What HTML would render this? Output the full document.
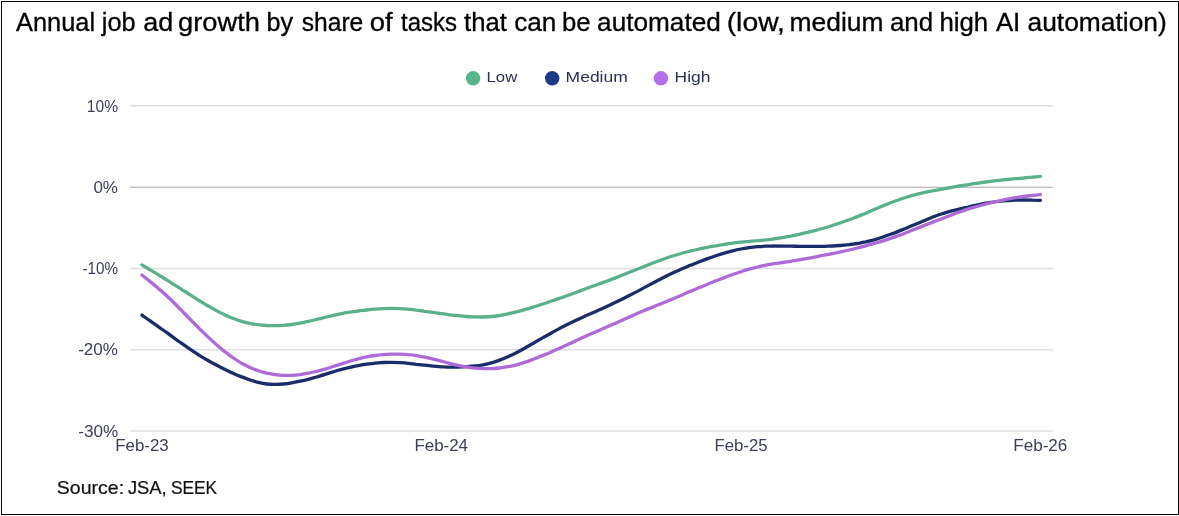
<!DOCTYPE html>
<html><head><meta charset="utf-8"><title>Annual job ad growth</title>
<style>
html,body{margin:0;padding:0;background:#fff;}
body{width:1179px;height:516px;overflow:hidden;font-family:"Liberation Sans",sans-serif;}
svg{display:block;}
text{font-family:"Liberation Sans",sans-serif;}
.ax{fill:#3c4058;font-size:15.5px;}
.lg{fill:#2b3050;font-size:15.2px;}
</style></head><body>
<svg width="1179" height="516" viewBox="0 0 1179 516">
<rect x="0" y="0" width="1179" height="516" fill="#fff"/>
<rect x="1.5" y="1.5" width="1177" height="513" fill="none" stroke="#000" stroke-width="1"/>
<text y="31.1" font-size="25" fill="#000" stroke="#000" stroke-width="0.3">
<tspan x="16.1" textLength="79.0" lengthAdjust="spacingAndGlyphs">Annual</tspan>
<tspan x="101.8" textLength="33.8" lengthAdjust="spacingAndGlyphs">job</tspan>
<tspan x="143.3" textLength="30.0" lengthAdjust="spacingAndGlyphs">ad</tspan>
<tspan x="178.1" textLength="81.9" lengthAdjust="spacingAndGlyphs">growth</tspan>
<tspan x="266.6" textLength="26.6" lengthAdjust="spacingAndGlyphs">by</tspan>
<tspan x="301.8" textLength="61.5" lengthAdjust="spacingAndGlyphs">share</tspan>
<tspan x="369.8" textLength="22.9" lengthAdjust="spacingAndGlyphs">of</tspan>
<tspan x="401.0" textLength="56.0" lengthAdjust="spacingAndGlyphs">tasks</tspan>
<tspan x="464.0" textLength="42.9" lengthAdjust="spacingAndGlyphs">that</tspan>
<tspan x="514.2" textLength="42.2" lengthAdjust="spacingAndGlyphs">can</tspan>
<tspan x="561.9" textLength="28.6" lengthAdjust="spacingAndGlyphs">be</tspan>
<tspan x="597.1" textLength="123.7" lengthAdjust="spacingAndGlyphs">automated</tspan>
<tspan x="726.7" textLength="58.2" lengthAdjust="spacingAndGlyphs">(low,</tspan>
<tspan x="789.6" textLength="93.8" lengthAdjust="spacingAndGlyphs">medium</tspan>
<tspan x="889.9" textLength="43.3" lengthAdjust="spacingAndGlyphs">and</tspan>
<tspan x="939.4" textLength="48.8" lengthAdjust="spacingAndGlyphs">high</tspan>
<tspan x="995.9" textLength="24.3" lengthAdjust="spacingAndGlyphs">AI</tspan>
<tspan x="1027.5" textLength="139.3" lengthAdjust="spacingAndGlyphs">automation)</tspan>
</text>
<g stroke="#dfdfe4" stroke-width="1.5">
<line x1="130" y1="105.8" x2="1052.8" y2="105.8"/>
<line x1="130" y1="268.5" x2="1052.8" y2="268.5"/>
<line x1="130" y1="349.8" x2="1052.8" y2="349.8"/>
<line x1="130" y1="431" x2="1052.8" y2="431"/>
</g>
<line x1="130" y1="187.2" x2="1052.8" y2="187.2" stroke="#a7a4b0" stroke-width="1.1"/>
<g class="ax" text-anchor="end" style="font-size:16.3px">
<text x="118.0" y="111.7" textLength="31.2" lengthAdjust="spacingAndGlyphs">10%</text>
<text x="118.0" y="192.9" textLength="24.6" lengthAdjust="spacingAndGlyphs">0%</text>
<text x="118.0" y="274.2" textLength="35.6" lengthAdjust="spacingAndGlyphs">-10%</text>
<text x="118.0" y="355.4" textLength="39.8" lengthAdjust="spacingAndGlyphs">-20%</text>
<text x="118.3" y="436.6" textLength="40" lengthAdjust="spacingAndGlyphs">-30%</text>
</g>
<g class="ax" style="font-size:15.8px">
<text x="115.2" y="450.6" textLength="53.6" lengthAdjust="spacingAndGlyphs">Feb-23</text>
<text x="414.4" y="450.6" textLength="53.6" lengthAdjust="spacingAndGlyphs">Feb-24</text>
<text x="714.4" y="450.6" textLength="53.2" lengthAdjust="spacingAndGlyphs">Feb-25</text>
<text x="1013.2" y="450.6" textLength="54.2" lengthAdjust="spacingAndGlyphs">Feb-26</text>
</g>
<circle cx="473.1" cy="78.3" r="7.2" fill="#58b68c"/>
<circle cx="552.2" cy="78.3" r="7.2" fill="#1f3a8a"/>
<circle cx="660.9" cy="78.3" r="7.2" fill="#b46ee8"/>
<g class="lg">
<text x="486.6" y="82.2" textLength="30.6" lengthAdjust="spacingAndGlyphs">Low</text>
<text x="565.6" y="82.2" textLength="62.2" lengthAdjust="spacingAndGlyphs">Medium</text>
<text x="674.6" y="82.2" textLength="35.8" lengthAdjust="spacingAndGlyphs">High</text>
</g>
<g fill="none" stroke-width="3.3" stroke-linecap="round" stroke-linejoin="round">
<path stroke="#5ab08b" d="M141.9 264.9C144.7 266.5 147.4 268.2 150.2 269.9C153.0 271.5 155.8 273.2 158.5 274.9C161.3 276.6 164.1 278.3 166.9 280.0C169.6 281.8 172.4 283.5 175.2 285.3C178.0 287.0 180.7 288.8 183.5 290.6C186.3 292.4 189.0 294.1 191.8 295.9C194.6 297.7 197.4 299.4 200.1 301.2C202.9 302.9 205.7 304.6 208.5 306.2C211.2 307.9 214.0 309.4 216.8 310.9C219.5 312.4 222.3 313.7 225.1 315.0C227.9 316.3 230.6 317.4 233.4 318.5C236.2 319.5 239.0 320.5 241.7 321.3C244.5 322.1 247.3 322.8 250.1 323.3C252.8 323.9 255.6 324.4 258.4 324.7C261.1 325.1 263.9 325.3 266.7 325.5C269.5 325.7 272.2 325.7 275.0 325.7C277.8 325.7 280.6 325.6 283.3 325.4C286.1 325.2 288.9 324.9 291.6 324.5C294.4 324.1 297.2 323.7 300.0 323.2C302.7 322.6 305.5 322.0 308.3 321.4C311.1 320.8 313.8 320.1 316.6 319.4C319.4 318.8 322.2 318.1 324.9 317.4C327.7 316.7 330.5 316.1 333.2 315.4C336.0 314.8 338.8 314.2 341.6 313.6C344.3 313.1 347.1 312.6 349.9 312.2C352.7 311.8 355.4 311.4 358.2 311.0C361.0 310.7 363.8 310.3 366.5 310.0C369.3 309.7 372.1 309.4 374.8 309.2C377.6 309.0 380.4 308.8 383.2 308.6C385.9 308.5 388.7 308.4 391.5 308.4C394.3 308.4 397.0 308.5 399.8 308.6C402.6 308.8 405.3 309.0 408.1 309.2C410.9 309.5 413.7 309.8 416.4 310.2C419.2 310.5 422.0 310.9 424.8 311.3C427.5 311.6 430.3 312.0 433.1 312.4C435.9 312.8 438.6 313.3 441.4 313.6C444.2 314.0 446.9 314.4 449.7 314.8C452.5 315.1 455.3 315.4 458.0 315.7C460.8 316.0 463.6 316.3 466.4 316.5C469.1 316.7 471.9 316.8 474.7 316.9C477.5 317.0 480.2 317.0 483.0 317.0C485.8 316.9 488.5 316.8 491.3 316.5C494.1 316.3 496.9 315.9 499.6 315.5C502.4 315.1 505.2 314.5 508.0 313.9C510.7 313.3 513.5 312.7 516.3 311.9C519.0 311.2 521.8 310.5 524.6 309.6C527.4 308.8 530.1 308.0 532.9 307.1C535.7 306.3 538.5 305.4 541.2 304.5C544.0 303.6 546.8 302.7 549.6 301.7C552.3 300.8 555.1 299.9 557.9 298.9C560.6 298.0 563.4 297.0 566.2 296.0C569.0 295.0 571.7 294.0 574.5 293.0C577.3 292.0 580.1 291.0 582.8 289.9C585.6 288.9 588.4 287.9 591.1 286.8C593.9 285.8 596.7 284.8 599.5 283.8C602.2 282.8 605.0 281.7 607.8 280.7C610.6 279.7 613.3 278.6 616.1 277.6C618.9 276.5 621.7 275.4 624.4 274.3C627.2 273.2 630.0 272.1 632.7 271.0C635.5 269.9 638.3 268.8 641.1 267.7C643.8 266.6 646.6 265.5 649.4 264.4C652.2 263.3 654.9 262.2 657.7 261.2C660.5 260.1 663.3 259.1 666.0 258.2C668.8 257.2 671.6 256.3 674.3 255.5C677.1 254.6 679.9 253.8 682.7 253.0C685.4 252.3 688.2 251.6 691.0 250.9C693.8 250.2 696.5 249.6 699.3 249.0C702.1 248.4 704.8 247.8 707.6 247.3C710.4 246.8 713.2 246.2 715.9 245.8C718.7 245.3 721.5 244.8 724.3 244.3C727.0 243.9 729.8 243.5 732.6 243.1C735.4 242.7 738.1 242.4 740.9 242.1C743.7 241.8 746.4 241.5 749.2 241.3C752.0 241.1 754.8 240.9 757.5 240.7C760.3 240.4 763.1 240.2 765.9 239.9C768.6 239.6 771.4 239.3 774.2 238.9C777.0 238.5 779.7 238.1 782.5 237.6C785.3 237.2 788.0 236.6 790.8 236.1C793.6 235.5 796.4 235.0 799.1 234.3C801.9 233.7 804.7 233.1 807.5 232.4C810.2 231.7 813.0 231.0 815.8 230.3C818.5 229.5 821.3 228.8 824.1 228.0C826.9 227.2 829.6 226.4 832.4 225.5C835.2 224.6 838.0 223.7 840.7 222.8C843.5 221.8 846.3 220.8 849.1 219.8C851.8 218.7 854.6 217.7 857.4 216.6C860.1 215.5 862.9 214.3 865.7 213.2C868.5 212.0 871.2 210.8 874.0 209.6C876.8 208.5 879.6 207.3 882.3 206.1C885.1 205.0 887.9 203.8 890.6 202.7C893.4 201.7 896.2 200.6 899.0 199.7C901.7 198.7 904.5 197.8 907.3 197.0C910.1 196.1 912.8 195.3 915.6 194.6C918.4 193.9 921.2 193.2 923.9 192.6C926.7 192.0 929.5 191.4 932.2 190.9C935.0 190.3 937.8 189.8 940.6 189.3C943.3 188.8 946.1 188.3 948.9 187.8C951.7 187.3 954.4 186.9 957.2 186.4C960.0 185.9 962.8 185.5 965.5 185.0C968.3 184.6 971.1 184.1 973.8 183.7C976.6 183.3 979.4 182.9 982.2 182.5C984.9 182.1 987.7 181.7 990.5 181.4C993.3 181.0 996.0 180.7 998.8 180.4C1001.6 180.1 1004.3 179.8 1007.1 179.5C1009.9 179.3 1012.7 179.0 1015.4 178.7C1018.2 178.5 1021.0 178.2 1023.8 178.0C1026.5 177.7 1029.3 177.4 1032.1 177.2C1034.9 176.9 1037.6 176.7 1040.4 176.4"/>
<path stroke="#1b2d69" d="M141.9 315.1C144.7 317.0 147.4 319.0 150.2 320.9C153.0 322.9 155.8 324.8 158.5 326.8C161.3 328.8 164.1 330.7 166.9 332.7C169.6 334.7 172.4 336.8 175.2 338.8C178.0 340.8 180.7 342.7 183.5 344.7C186.3 346.7 189.0 348.6 191.8 350.4C194.6 352.3 197.4 354.0 200.1 355.8C202.9 357.5 205.7 359.1 208.5 360.7C211.2 362.3 214.0 363.8 216.8 365.3C219.5 366.8 222.3 368.2 225.1 369.5C227.9 370.9 230.6 372.1 233.4 373.4C236.2 374.6 239.0 375.8 241.7 376.9C244.5 378.0 247.3 379.0 250.1 380.0C252.8 380.9 255.6 381.7 258.4 382.4C261.1 383.1 263.9 383.7 266.7 384.0C269.5 384.3 272.2 384.5 275.0 384.4C277.8 384.4 280.6 384.3 283.3 384.0C286.1 383.7 288.9 383.3 291.6 382.8C294.4 382.4 297.2 381.8 300.0 381.2C302.7 380.6 305.5 380.0 308.3 379.3C311.1 378.5 313.8 377.8 316.6 377.0C319.4 376.1 322.2 375.3 324.9 374.4C327.7 373.5 330.5 372.6 333.2 371.8C336.0 370.9 338.8 370.1 341.6 369.4C344.3 368.6 347.1 367.9 349.9 367.3C352.7 366.7 355.4 366.1 358.2 365.6C361.0 365.1 363.8 364.6 366.5 364.2C369.3 363.8 372.1 363.5 374.8 363.2C377.6 362.9 380.4 362.7 383.2 362.5C385.9 362.4 388.7 362.3 391.5 362.3C394.3 362.3 397.0 362.4 399.8 362.6C402.6 362.8 405.3 363.0 408.1 363.3C410.9 363.6 413.7 363.9 416.4 364.3C419.2 364.6 422.0 364.9 424.8 365.2C427.5 365.5 430.3 365.8 433.1 366.1C435.9 366.4 438.6 366.6 441.4 366.8C444.2 366.9 446.9 367.1 449.7 367.1C452.5 367.2 455.3 367.2 458.0 367.1C460.8 367.0 463.6 366.9 466.4 366.7C469.1 366.5 471.9 366.3 474.7 366.0C477.5 365.7 480.2 365.3 483.0 364.8C485.8 364.2 488.5 363.6 491.3 362.8C494.1 362.1 496.9 361.2 499.6 360.1C502.4 359.1 505.2 357.9 508.0 356.7C510.7 355.4 513.5 354.1 516.3 352.7C519.0 351.3 521.8 349.8 524.6 348.2C527.4 346.7 530.1 345.1 532.9 343.5C535.7 341.9 538.5 340.3 541.2 338.7C544.0 337.1 546.8 335.5 549.6 334.0C552.3 332.4 555.1 330.9 557.9 329.4C560.6 327.9 563.4 326.4 566.2 325.0C569.0 323.6 571.7 322.3 574.5 321.0C577.3 319.7 580.1 318.4 582.8 317.2C585.6 315.9 588.4 314.7 591.1 313.5C593.9 312.3 596.7 311.0 599.5 309.8C602.2 308.6 605.0 307.3 607.8 306.0C610.6 304.8 613.3 303.5 616.1 302.1C618.9 300.8 621.7 299.4 624.4 298.0C627.2 296.6 630.0 295.2 632.7 293.8C635.5 292.3 638.3 290.9 641.1 289.4C643.8 287.9 646.6 286.4 649.4 284.9C652.2 283.4 654.9 282.0 657.7 280.5C660.5 279.1 663.3 277.7 666.0 276.3C668.8 274.9 671.6 273.6 674.3 272.3C677.1 271.1 679.9 269.8 682.7 268.6C685.4 267.4 688.2 266.3 691.0 265.1C693.8 264.0 696.5 262.9 699.3 261.8C702.1 260.7 704.8 259.6 707.6 258.6C710.4 257.6 713.2 256.6 715.9 255.7C718.7 254.8 721.5 253.9 724.3 253.1C727.0 252.2 729.8 251.5 732.6 250.8C735.4 250.1 738.1 249.5 740.9 249.0C743.7 248.4 746.4 248.0 749.2 247.6C752.0 247.3 754.8 247.0 757.5 246.7C760.3 246.5 763.1 246.3 765.9 246.2C768.6 246.1 771.4 246.1 774.2 246.0C777.0 246.0 779.7 246.0 782.5 246.1C785.3 246.1 788.0 246.1 790.8 246.2C793.6 246.2 796.4 246.3 799.1 246.3C801.9 246.4 804.7 246.4 807.5 246.4C810.2 246.4 813.0 246.4 815.8 246.4C818.5 246.4 821.3 246.4 824.1 246.3C826.9 246.2 829.6 246.1 832.4 246.0C835.2 245.9 838.0 245.7 840.7 245.5C843.5 245.3 846.3 245.0 849.1 244.7C851.8 244.3 854.6 243.9 857.4 243.5C860.1 243.0 862.9 242.5 865.7 241.9C868.5 241.2 871.2 240.5 874.0 239.8C876.8 239.0 879.6 238.1 882.3 237.2C885.1 236.3 887.9 235.3 890.6 234.3C893.4 233.3 896.2 232.2 899.0 231.1C901.7 230.0 904.5 228.9 907.3 227.7C910.1 226.6 912.8 225.4 915.6 224.2C918.4 223.0 921.2 221.8 923.9 220.7C926.7 219.5 929.5 218.4 932.2 217.3C935.0 216.3 937.8 215.2 940.6 214.3C943.3 213.4 946.1 212.5 948.9 211.7C951.7 211.0 954.4 210.3 957.2 209.6C960.0 208.9 962.8 208.2 965.5 207.6C968.3 207.0 971.1 206.3 973.8 205.7C976.6 205.1 979.4 204.5 982.2 203.9C984.9 203.4 987.7 202.8 990.5 202.4C993.3 202.0 996.0 201.6 998.8 201.3C1001.6 201.0 1004.3 200.7 1007.1 200.5C1009.9 200.4 1012.7 200.2 1015.4 200.1C1018.2 200.1 1021.0 200.0 1023.8 200.0C1026.5 200.0 1029.3 200.0 1032.1 200.1C1034.9 200.1 1037.6 200.2 1040.4 200.3"/>
<path stroke="#ad6bd9" d="M141.9 275.0C144.7 277.2 147.4 279.4 150.2 281.6C153.0 283.9 155.8 286.2 158.5 288.6C161.3 290.9 164.1 293.4 166.9 296.0C169.6 298.5 172.4 301.2 175.2 304.0C178.0 306.8 180.7 309.6 183.5 312.5C186.3 315.3 189.0 318.2 191.8 321.0C194.6 323.9 197.4 326.7 200.1 329.4C202.9 332.1 205.7 334.8 208.5 337.4C211.2 340.0 214.0 342.6 216.8 345.0C219.5 347.4 222.3 349.7 225.1 351.9C227.9 354.1 230.6 356.1 233.4 358.0C236.2 359.9 239.0 361.7 241.7 363.3C244.5 364.8 247.3 366.2 250.1 367.5C252.8 368.7 255.6 369.8 258.4 370.7C261.1 371.7 263.9 372.4 266.7 373.1C269.5 373.7 272.2 374.2 275.0 374.6C277.8 375.0 280.6 375.2 283.3 375.3C286.1 375.4 288.9 375.4 291.6 375.3C294.4 375.2 297.2 374.9 300.0 374.6C302.7 374.2 305.5 373.8 308.3 373.2C311.1 372.7 313.8 372.0 316.6 371.3C319.4 370.7 322.2 369.9 324.9 369.1C327.7 368.3 330.5 367.4 333.2 366.5C336.0 365.7 338.8 364.8 341.6 363.9C344.3 363.0 347.1 362.1 349.9 361.2C352.7 360.4 355.4 359.6 358.2 358.8C361.0 358.1 363.8 357.4 366.5 356.9C369.3 356.3 372.1 355.8 374.8 355.5C377.6 355.1 380.4 354.8 383.2 354.6C385.9 354.4 388.7 354.3 391.5 354.2C394.3 354.1 397.0 354.1 399.8 354.2C402.6 354.3 405.3 354.4 408.1 354.7C410.9 354.9 413.7 355.2 416.4 355.6C419.2 356.1 422.0 356.6 424.8 357.2C427.5 357.7 430.3 358.4 433.1 359.1C435.9 359.8 438.6 360.5 441.4 361.2C444.2 361.9 446.9 362.6 449.7 363.3C452.5 364.0 455.3 364.7 458.0 365.3C460.8 365.9 463.6 366.5 466.4 366.9C469.1 367.4 471.9 367.8 474.7 368.1C477.5 368.3 480.2 368.5 483.0 368.6C485.8 368.7 488.5 368.7 491.3 368.6C494.1 368.5 496.9 368.3 499.6 368.0C502.4 367.7 505.2 367.2 508.0 366.7C510.7 366.2 513.5 365.6 516.3 364.8C519.0 364.1 521.8 363.3 524.6 362.4C527.4 361.5 530.1 360.5 532.9 359.4C535.7 358.4 538.5 357.3 541.2 356.1C544.0 355.0 546.8 353.8 549.6 352.7C552.3 351.5 555.1 350.3 557.9 349.0C560.6 347.8 563.4 346.5 566.2 345.3C569.0 344.0 571.7 342.7 574.5 341.4C577.3 340.1 580.1 338.8 582.8 337.6C585.6 336.3 588.4 335.0 591.1 333.8C593.9 332.6 596.7 331.4 599.5 330.2C602.2 329.0 605.0 327.8 607.8 326.6C610.6 325.4 613.3 324.2 616.1 323.0C618.9 321.8 621.7 320.5 624.4 319.3C627.2 318.0 630.0 316.7 632.7 315.5C635.5 314.2 638.3 313.0 641.1 311.8C643.8 310.6 646.6 309.5 649.4 308.4C652.2 307.2 654.9 306.1 657.7 305.0C660.5 303.9 663.3 302.8 666.0 301.7C668.8 300.6 671.6 299.4 674.3 298.3C677.1 297.1 679.9 295.9 682.7 294.7C685.4 293.5 688.2 292.3 691.0 291.1C693.8 290.0 696.5 288.8 699.3 287.6C702.1 286.5 704.8 285.3 707.6 284.2C710.4 283.1 713.2 281.9 715.9 280.8C718.7 279.7 721.5 278.7 724.3 277.6C727.0 276.5 729.8 275.5 732.6 274.5C735.4 273.5 738.1 272.6 740.9 271.7C743.7 270.8 746.4 270.0 749.2 269.2C752.0 268.4 754.8 267.7 757.5 267.0C760.3 266.3 763.1 265.7 765.9 265.2C768.6 264.6 771.4 264.2 774.2 263.7C777.0 263.3 779.7 262.9 782.5 262.5C785.3 262.1 788.0 261.7 790.8 261.3C793.6 260.8 796.4 260.4 799.1 259.9C801.9 259.4 804.7 258.9 807.5 258.4C810.2 257.8 813.0 257.3 815.8 256.8C818.5 256.3 821.3 255.8 824.1 255.2C826.9 254.7 829.6 254.2 832.4 253.6C835.2 253.1 838.0 252.5 840.7 251.9C843.5 251.3 846.3 250.7 849.1 250.0C851.8 249.4 854.6 248.7 857.4 248.0C860.1 247.3 862.9 246.5 865.7 245.8C868.5 245.1 871.2 244.3 874.0 243.5C876.8 242.7 879.6 241.9 882.3 241.1C885.1 240.2 887.9 239.3 890.6 238.4C893.4 237.4 896.2 236.4 899.0 235.4C901.7 234.4 904.5 233.3 907.3 232.2C910.1 231.1 912.8 230.0 915.6 228.9C918.4 227.8 921.2 226.7 923.9 225.6C926.7 224.5 929.5 223.5 932.2 222.4C935.0 221.3 937.8 220.2 940.6 219.2C943.3 218.1 946.1 217.0 948.9 216.0C951.7 214.9 954.4 213.9 957.2 212.8C960.0 211.8 962.8 210.8 965.5 209.9C968.3 209.0 971.1 208.1 973.8 207.3C976.6 206.5 979.4 205.7 982.2 205.0C984.9 204.3 987.7 203.6 990.5 202.9C993.3 202.2 996.0 201.6 998.8 201.0C1001.6 200.4 1004.3 199.8 1007.1 199.2C1009.9 198.7 1012.7 198.2 1015.4 197.7C1018.2 197.3 1021.0 196.9 1023.8 196.5C1026.5 196.1 1029.3 195.8 1032.1 195.5C1034.9 195.2 1037.6 194.9 1040.4 194.6"/>
</g>
<text y="494.3" font-size="17.8" fill="#111" stroke="#111" stroke-width="0.2">
<tspan x="56.8" textLength="67.3" lengthAdjust="spacingAndGlyphs">Source:</tspan>
<tspan x="127.9" textLength="38.8" lengthAdjust="spacingAndGlyphs">JSA,</tspan>
<tspan x="170.9" textLength="46.2" lengthAdjust="spacingAndGlyphs">SEEK</tspan>
</text>
</svg>
</body></html>
